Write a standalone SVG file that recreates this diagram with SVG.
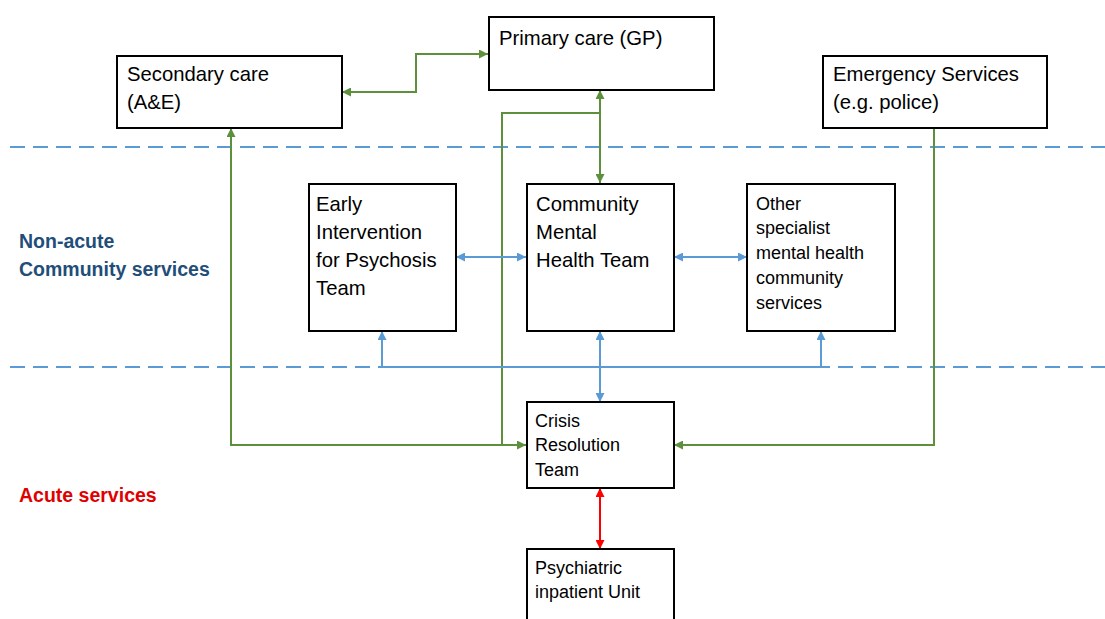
<svg xmlns="http://www.w3.org/2000/svg" width="1105" height="619" viewBox="0 0 1105 619">
<style>
.box{fill:#fff;stroke:#000;stroke-width:2}
.t{font-family:"Liberation Sans",Arial,sans-serif;fill:#000}
.big{font-size:20.3px}
.sm{font-size:18px}
.dash{stroke:#5b9bd5;stroke-width:2;stroke-dasharray:15 8;fill:none}
.g{stroke:#5e8f3c;stroke-width:2;fill:none}
.b{stroke:#5b9bd5;stroke-width:2;fill:none}
.r{stroke:#ff0000;stroke-width:2;fill:none}
.lbl{font-family:"Liberation Sans",Arial,sans-serif;font-weight:bold;font-size:19.5px}
</style>
<defs>
<marker id="ag" viewBox="0 0 10 10" refX="10" refY="5" markerWidth="9" markerHeight="9" markerUnits="userSpaceOnUse" orient="auto-start-reverse"><path d="M0,0 L10,5 L0,10 z" fill="#5e8f3c"/></marker>
<marker id="ab" viewBox="0 0 10 10" refX="10" refY="5" markerWidth="9" markerHeight="9" markerUnits="userSpaceOnUse" orient="auto-start-reverse"><path d="M0,0 L10,5 L0,10 z" fill="#5b9bd5"/></marker>
<marker id="ar" viewBox="0 0 10 10" refX="10" refY="5" markerWidth="9" markerHeight="9" markerUnits="userSpaceOnUse" orient="auto-start-reverse"><path d="M0,0 L10,5 L0,10 z" fill="#ff0000"/></marker>
</defs>
<rect width="1105" height="619" fill="#fff"/>
<g id="bands">
<line class="dash" x1="10" y1="147" x2="1105" y2="147"/>
<line class="dash" x1="10" y1="367" x2="1105" y2="367"/>
<text class="lbl" x="19" y="248" fill="#1f4e79">Non-acute</text>
<text class="lbl" x="19" y="276" fill="#1f4e79">Community services</text>
<text class="lbl" x="19" y="502" fill="#e00000">Acute services</text>
</g>
<g id="connectors">
<path class="g" d="M342,92 H416 V54 H488" marker-start="url(#ag)" marker-end="url(#ag)"/>
<path class="g" d="M600,90 V183" marker-start="url(#ag)" marker-end="url(#ag)"/>
<path class="g" d="M600,113 H502 V445"/>
<path class="g" d="M231,128 V445 H526" marker-start="url(#ag)" marker-end="url(#ag)"/>
<path class="g" d="M934,128 V445 H674" marker-end="url(#ag)"/>
<path class="b" d="M456,257 H526" marker-start="url(#ab)" marker-end="url(#ab)"/>
<path class="b" d="M674,257 H747" marker-start="url(#ab)" marker-end="url(#ab)"/>
<path class="b" d="M382,331 V367 H821 V331" marker-start="url(#ab)" marker-end="url(#ab)"/>
<path class="b" d="M600,331 V402" stroke-width="2.5" marker-start="url(#ab)" marker-end="url(#ab)"/>
<path class="r" d="M600,488 V549" marker-start="url(#ar)" marker-end="url(#ar)"/>
</g>
<g id="primary">
<rect class="box" x="489" y="17" width="225" height="73"/>
<text class="t big" x="499" y="45">Primary care (GP)</text>
</g>
<g id="secondary">
<rect class="box" x="117" y="56" width="225" height="72"/>
<text class="t big" x="127" y="81">Secondary care</text>
<text class="t big" x="127" y="109">(A&amp;E)</text>
</g>
<g id="emergency">
<rect class="box" x="823" y="56" width="224" height="72"/>
<text class="t big" x="833" y="81">Emergency Services</text>
<text class="t big" x="833" y="109">(e.g. police)</text>
</g>
<g id="eip">
<rect class="box" x="309" y="184" width="147" height="147"/>
<text class="t big" x="316" y="211">Early</text>
<text class="t big" x="316" y="239">Intervention</text>
<text class="t big" x="316" y="267">for Psychosis</text>
<text class="t big" x="316" y="295">Team</text>
</g>
<g id="cmht">
<rect class="box" x="527" y="184" width="147" height="147"/>
<text class="t big" x="536" y="211">Community</text>
<text class="t big" x="536" y="239">Mental</text>
<text class="t big" x="536" y="267">Health Team</text>
</g>
<g id="other">
<rect class="box" x="747" y="184" width="148" height="147"/>
<text class="t sm" x="756" y="210">Other</text>
<text class="t sm" x="756" y="234">specialist</text>
<text class="t sm" x="756" y="259">mental health</text>
<text class="t sm" x="756" y="284">community</text>
<text class="t sm" x="756" y="309">services</text>
</g>
<g id="crisis">
<rect class="box" x="527" y="402" width="147" height="86"/>
<text class="t sm" x="535" y="427">Crisis</text>
<text class="t sm" x="535" y="451">Resolution</text>
<text class="t sm" x="535" y="476">Team</text>
</g>
<g id="inpatient">
<rect class="box" x="527" y="549" width="147" height="80"/>
<text class="t sm" x="535" y="574">Psychiatric</text>
<text class="t sm" x="535" y="598">inpatient Unit</text>
</g>
</svg>
